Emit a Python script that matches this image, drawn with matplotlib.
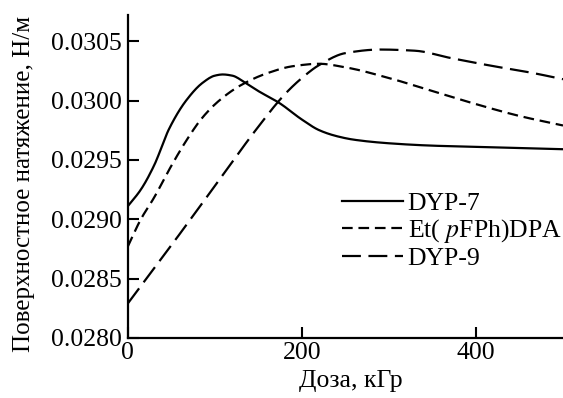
import matplotlib
matplotlib.use("Agg")
import matplotlib.pyplot as plt
import numpy as np

plt.rcParams['font.family'] = ['Liberation Serif', 'DejaVu Serif']
plt.rcParams['mathtext.fontset'] = 'stix'

dyp7_x = [0, 15, 30, 48, 67, 86, 100, 109, 120, 135, 150, 174, 200, 220, 240, 260, 300, 350, 400, 450, 500]
dyp7_y = [0.02911, 0.02925, 0.02945, 0.02977, 0.03000, 0.03015, 0.03021, 0.03022, 0.03021, 0.03015, 0.03008, 0.02998, 0.02984, 0.02975, 0.02970, 0.02967, 0.02964, 0.02962, 0.02961, 0.02960, 0.02959]

et_x = [0, 15, 30, 50, 67, 85, 105, 130, 160, 190, 220, 250, 300, 350, 400, 450, 500]
et_y = [0.02877, 0.02900, 0.02918, 0.02945, 0.02966, 0.02985, 0.03000, 0.03013, 0.03023, 0.03029, 0.03031, 0.03028, 0.03019, 0.03008, 0.02997, 0.02987, 0.02979]

dyp9_x = [0, 50, 100, 150, 180, 200, 220, 250, 290, 330, 370, 420, 460, 500]
dyp9_y = [0.02829, 0.02878, 0.02928, 0.02978, 0.03005, 0.03019, 0.03030, 0.03040, 0.03043, 0.03042, 0.03036, 0.03029, 0.03024, 0.03018]

labels = ['DYP-7', 'Et( $\\mathit{p}$FPh)DPA', 'DYP-9']
xticks = [0, 200, 400]
yticks = [0.0280, 0.0285, 0.0290, 0.0295, 0.0300, 0.0305]


def smooth(x, y, n=300):
    # monotone cubic (PCHIP-like) evaluation through the read points
    x = np.asarray(x, float); y = np.asarray(y, float)
    h = np.diff(x); d = np.diff(y) / h
    m = np.zeros_like(y)
    for k in range(1, len(x) - 1):
        if d[k-1] * d[k] > 0:
            w1 = 2*h[k] + h[k-1]; w2 = h[k] + 2*h[k-1]
            m[k] = (w1 + w2) / (w1/d[k-1] + w2/d[k])
    m[0] = d[0]; m[-1] = d[-1]
    xs = np.linspace(x[0], x[-1], n)
    idx = np.clip(np.searchsorted(x, xs) - 1, 0, len(x) - 2)
    t = (xs - x[idx]) / h[idx]
    h00 = 2*t**3 - 3*t**2 + 1; h10 = t**3 - 2*t**2 + t
    h01 = -2*t**3 + 3*t**2; h11 = t**3 - t**2
    ys = h00*y[idx] + h10*h[idx]*m[idx] + h01*y[idx+1] + h11*h[idx]*m[idx+1]
    return xs, ys


fig = plt.figure(figsize=(5.63, 3.98), dpi=100)
ax = fig.add_axes([0.227, 0.151, 0.773, 0.811])

lw = 1.6
ax.plot(*smooth(dyp7_x, dyp7_y), color='black', lw=lw, label=labels[0])
ax.plot(*smooth(et_x, et_y), color='black', lw=lw, dashes=(4.8, 2.6), label=labels[1])
ax.plot(*smooth(dyp9_x, dyp9_y), color='black', lw=lw, dashes=(8.5, 3.4), label=labels[2])

ax.set_xlim(0, 500)
ax.set_ylim(0.0280, 0.03072)
ax.set_xticks(xticks)
ax.set_yticks(yticks)
ax.set_yticklabels([f'{v:.4f}' for v in yticks])
ax.tick_params(direction='in', length=8, width=1.5, labelsize=18.5)
ax.tick_params(axis='y', pad=4)
ax.tick_params(axis='x', pad=3)
for s in ['top', 'right']:
    ax.spines[s].set_visible(False)
for s in ['left', 'bottom']:
    ax.spines[s].set_linewidth(1.6)

ax.set_xlabel('Доза, кГр', fontsize=18.5)
ax.set_ylabel('Поверхностное натяжение, Н/м', fontsize=18)
ax.xaxis.set_label_coords(0.513, -0.10)
ax.yaxis.set_label_coords(-0.214, 0.477)

ax.legend(loc='upper left', bbox_to_anchor=(0.607, 0.517), bbox_transform=fig.transFigure,
          frameon=False, fontsize=18.5, borderpad=0, borderaxespad=0,
          handlelength=2.37, handletextpad=0.2, labelspacing=0.08)

fig.savefig('out.png', dpi=100)
